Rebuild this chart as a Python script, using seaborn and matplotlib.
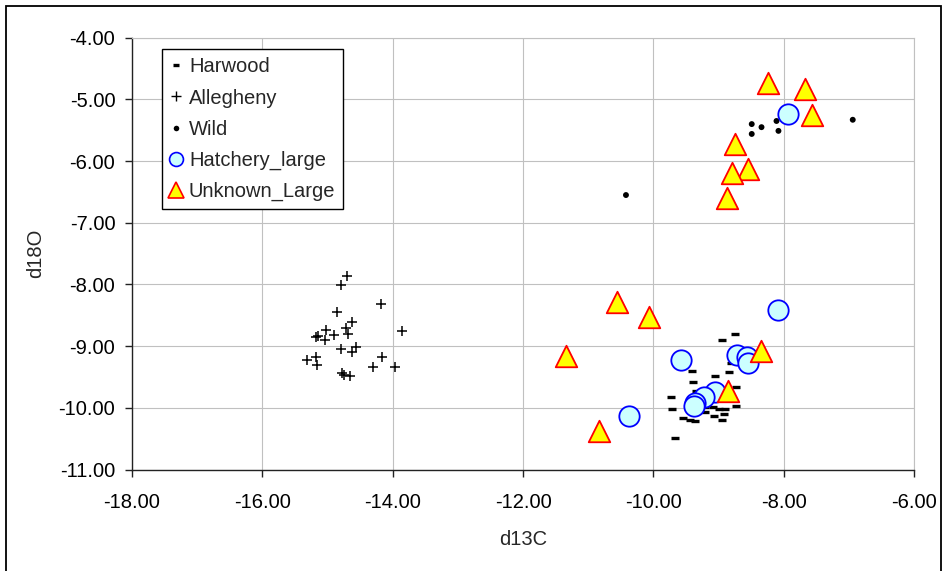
import matplotlib
matplotlib.use("Agg")
import matplotlib.pyplot as plt
import numpy as np
import pandas as pd
import seaborn as sns
from matplotlib.lines import Line2D
from matplotlib.patches import Rectangle
from matplotlib.ticker import FormatStrFormatter

# ---------------- data ----------------
harwood_x = [-8.74, -8.94, -8.81, -9.40, -8.84, -9.06, -9.39, -8.73, -9.34, -9.73,
             -9.71, -8.73, -9.08, -9.21, -9.00, -8.90, -9.21, -8.92, -9.07, -9.54,
             -9.44, -9.36, -8.95, -9.67]
harwood_y = [-8.81, -8.90, -9.28, -9.40, -9.42, -9.49, -9.58, -9.66, -9.72, -9.83,
             -10.01, -9.97, -9.99, -9.99, -10.01, -10.01, -10.06, -10.10, -10.13, -10.17,
             -10.20, -10.22, -10.20, -10.48]

allegheny_x = [-14.70, -14.79, -14.18, -14.85, -14.62, -14.71, -13.86, -15.02, -14.68, -14.90,
               -15.14, -15.17, -15.04, -14.56, -14.79, -14.63, -15.17, -14.16, -15.31, -15.16,
               -14.30, -13.96, -14.77, -14.74, -14.65]
allegheny_y = [-7.86, -8.01, -8.32, -8.45, -8.61, -8.71, -8.75, -8.74, -8.80, -8.82,
               -8.83, -8.85, -8.90, -9.01, -9.05, -9.10, -9.17, -9.17, -9.22, -9.31,
               -9.33, -9.33, -9.44, -9.47, -9.48]

wild_x = [-8.49, -8.34, -8.11, -8.49, -8.08, -6.94, -10.42]
wild_y = [-5.40, -5.45, -5.35, -5.56, -5.51, -5.33, -6.55]

hatchery_x = [-7.94, -8.09, -9.57, -8.71, -8.57, -8.54, -9.05, -9.22, -9.36, -9.37, -10.38]
hatchery_y = [-5.24, -8.42, -9.22, -9.14, -9.17, -9.28, -9.74, -9.82, -9.92, -9.97, -10.13]

unknown_x = [-8.24, -7.68, -7.57, -8.74, -8.54, -8.80, -8.87,
             -10.55, -10.07, -11.34, -10.84, -8.35, -8.85]
unknown_y = [-4.73, -4.83, -5.26, -5.72, -6.12, -6.19, -6.60,
             -8.28, -8.53, -9.16, -10.37, -9.07, -9.73]

series_names = ["Harwood", "Allegheny", "Wild", "Hatchery_large", "Unknown_Large"]
x_ticks = [-18, -16, -14, -12, -10, -8, -6]
y_ticks = [-11, -10, -9, -8, -7, -6, -5, -4]

# ---------------- style ----------------
sns.set_style("white")
plt.rcParams["font.family"] = ["Liberation Sans", "DejaVu Sans"]
plt.rcParams["axes.unicode_minus"] = False
FS = 14.5

fig = plt.figure(figsize=(9.47, 5.71), dpi=100)
ax = fig.add_axes([132 / 947, 1 - 469.6 / 571, (914 - 132) / 947, (469.6 - 37.7) / 571])

df_h = pd.DataFrame({"x": harwood_x, "y": harwood_y})
df_a = pd.DataFrame({"x": allegheny_x, "y": allegheny_y})
df_w = pd.DataFrame({"x": wild_x, "y": wild_y})
df_c = pd.DataFrame({"x": hatchery_x, "y": hatchery_y})
df_u = pd.DataFrame({"x": unknown_x, "y": unknown_y})

sns.scatterplot(data=df_h, x="x", y="y", ax=ax, marker="_", s=36, color="black",
                linewidth=2.4, zorder=3)
sns.scatterplot(data=df_a, x="x", y="y", ax=ax, marker="+", s=48, color="black",
                linewidth=1.1, zorder=3)
sns.scatterplot(data=df_w, x="x", y="y", ax=ax, marker="o", s=18, color="black",
                edgecolor="none", zorder=3)
sns.scatterplot(data=df_c, x="x", y="y", ax=ax, marker="o", s=215, color="#ccffff",
                edgecolor="#0000ff", linewidth=1.3, zorder=4)
sns.scatterplot(data=df_u, x="x", y="y", ax=ax, marker="^", s=240, color="#ffff00",
                edgecolor="#ff0000", linewidth=1.3, zorder=5)

ax.set_xlim(x_ticks[0], x_ticks[-1])
ax.set_ylim(y_ticks[0], y_ticks[-1])
ax.set_xticks(x_ticks)
ax.set_yticks(y_ticks)
ax.xaxis.set_major_formatter(FormatStrFormatter("%.2f"))
ax.yaxis.set_major_formatter(FormatStrFormatter("%.2f"))

ax.grid(True, color="#c0c0c0", linewidth=0.8)
ax.set_axisbelow(True)
for side in ["left", "bottom"]:
    ax.spines[side].set_color("#222222")
    ax.spines[side].set_linewidth(1.0)
for side in ["top", "right"]:
    ax.spines[side].set_color("#c0c0c0")
    ax.spines[side].set_linewidth(0.8)

ax.tick_params(axis="both", direction="out", length=5, width=1, color="#222222",
               labelsize=FS, labelcolor="black")
ax.tick_params(axis="x", pad=12, bottom=True)
ax.tick_params(axis="y", pad=7, left=True)

ax.set_xlabel("d13C", fontsize=FS, labelpad=13)
ax.set_ylabel("d18O", fontsize=FS, labelpad=10)

handles = [
    Line2D([], [], linestyle="none", marker="_", markersize=5, markeredgewidth=2.4, color="black"),
    Line2D([], [], linestyle="none", marker="+", markersize=6.5, markeredgewidth=1.0, color="black"),
    Line2D([], [], linestyle="none", marker="o", markersize=4, markeredgewidth=0, color="black"),
    Line2D([], [], linestyle="none", marker="o", markersize=10, markerfacecolor="#ccffff",
           markeredgecolor="#0000ff", markeredgewidth=1.2),
    Line2D([], [], linestyle="none", marker="^", markersize=11, markerfacecolor="#ffff00",
           markeredgecolor="#ff0000", markeredgewidth=1.2),
]
leg = ax.legend(handles, series_names, loc="upper left", bbox_to_anchor=(0.038, 0.973),
                borderaxespad=0, fontsize=FS, frameon=True, fancybox=False,
                handlelength=0.6, handletextpad=0.35, borderpad=0.4, labelspacing=0.6)
leg.get_frame().set_edgecolor("black")
leg.get_frame().set_linewidth(1.0)
leg.get_frame().set_facecolor("white")
leg.get_frame().set_alpha(1)

fig.patches.append(Rectangle((6 / 947, -0.05), (941 - 6) / 947, 1 - 6 / 571 + 0.05,
                             transform=fig.transFigure, fill=False, edgecolor="black",
                             linewidth=1.3))

fig.savefig("out.png", dpi=100)
